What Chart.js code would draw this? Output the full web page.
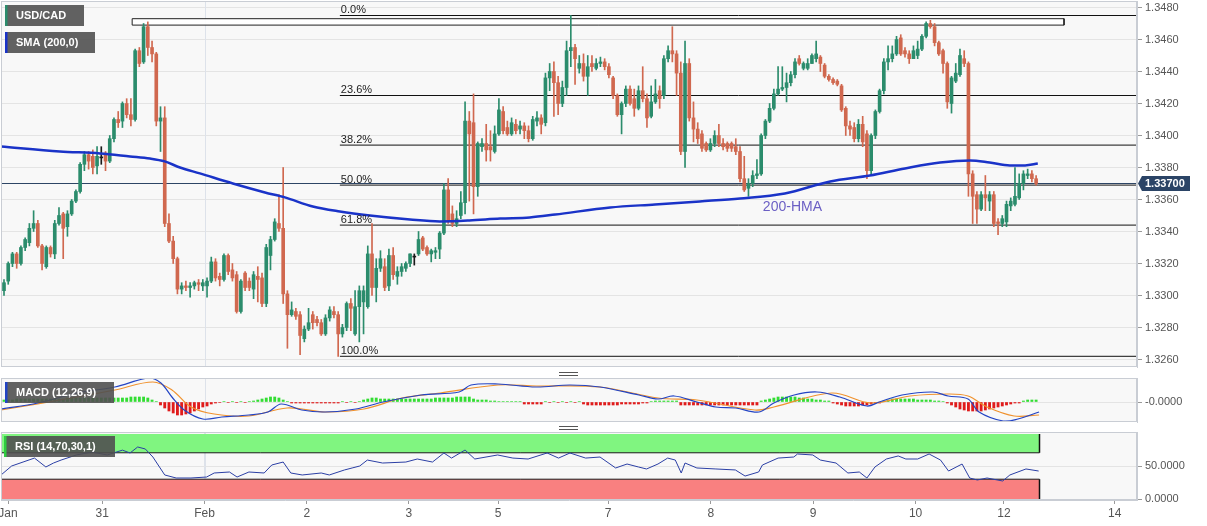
<!DOCTYPE html>
<html><head><meta charset="utf-8"><title>USD/CAD</title>
<script src="https://cdn.jsdelivr.net/npm/chart.js@4.4.1/dist/chart.umd.min.js"></script>
<style>
html,body{margin:0;padding:0;background:#fff;}
body{position:relative;width:1207px;height:526px;overflow:hidden;}
canvas{position:absolute;left:0;display:block;}
</style></head><body>
<canvas id="main" width="1207" height="369" style="top:0"></canvas>
<canvas id="macd" width="1207" height="56" style="top:370px"></canvas>
<canvas id="rsi" width="1207" height="102" style="top:424px"></canvas>
<script>
// ---------- DATA (hourly candles, USD/CAD) ----------
const open = [
1.3303,1.3309,1.3320,1.3326,1.3320,1.3330,1.3333,1.3342,1.3345,1.3331,
1.3318,1.3330,1.3326,1.3345,1.3351,1.3343,1.3351,1.3359,1.3365,1.3382,
1.3388,1.3387,1.3381,1.3386,1.3389,1.3384,1.3398,1.3410,1.3409,1.3420,
1.3413,1.3410,1.3453,1.3446,1.3468,1.3455,1.3451,1.3409,1.3411,1.3345,
1.3334,1.3323,1.3304,1.3306,1.3305,1.3306,1.3308,1.3306,1.3306,1.3309,
1.3321,1.3312,1.3310,1.3325,1.3316,1.3313,1.3290,1.3314,1.3309,1.3304,
1.3312,1.3311,1.3295,1.3325,1.3335,1.3345,1.3342,1.3301,1.3288,1.3290,
1.3288,1.3273,1.3279,1.3288,1.3285,1.3283,1.3276,1.3286,1.3290,1.3288,
1.3276,1.3280,1.3295,1.3276,1.3293,1.3296,1.3293,1.3326,1.3305,1.3317,
1.3318,1.3306,1.3325,1.3312,1.3315,1.3317,1.3320,1.3324,1.3326,1.3336,
1.3330,1.3326,1.3327,1.3329,1.3339,1.3366,1.3351,1.3345,1.3350,1.3358,
1.3409,1.3408,1.3368,1.3393,1.3395,1.3393,1.3390,1.3401,1.3415,1.3405,
1.3401,1.3407,1.3404,1.3406,1.3403,1.3398,1.3409,1.3411,1.3408,1.3436,
1.3440,1.3433,1.3420,1.3430,1.3453,1.3455,1.3442,1.3445,1.3437,1.3445,
1.3442,1.3445,1.3446,1.3443,1.3436,1.3425,1.3413,1.3420,1.3429,1.3423,
1.3417,1.3428,1.3423,1.3412,1.3421,1.3428,1.3425,1.3448,1.3453,1.3451,
1.3439,1.3390,1.3445,1.3411,1.3404,1.3401,1.3395,1.3391,1.3395,1.3400,
1.3395,1.3395,1.3395,1.3393,1.3390,1.3373,1.3367,1.3370,1.3375,1.3376,
1.3400,1.3409,1.3417,1.3426,1.3429,1.3430,1.3433,1.3438,1.3448,1.3442,
1.3442,1.3445,1.3448,1.3449,1.3444,1.3437,1.3435,1.3434,1.3431,1.3417,
1.3406,1.3405,1.3398,1.3407,1.3401,1.3378,1.3400,1.3415,1.3428,1.3446,
1.3448,1.3451,1.3461,1.3453,1.3451,1.3448,1.3450,1.3454,1.3462,1.3470,
1.3468,1.3458,1.3453,1.3445,1.3420,1.3434,1.3438,1.3448,1.3445,1.3376,
1.3363,1.3354,1.3363,1.3359,1.3363,1.3346,1.3345,1.3346,1.3356,1.3357,
1.3361,1.3370,1.3375,1.3376,1.3373];
const high = [
1.3310,1.3321,1.3327,1.3327,1.3331,1.3336,1.3345,1.3353,1.3347,1.3332,
1.3331,1.3331,1.3347,1.3355,1.3352,1.3353,1.3360,1.3366,1.3383,1.3390,
1.3390,1.3391,1.3393,1.3393,1.3390,1.3400,1.3411,1.3415,1.3421,1.3423,
1.3423,1.3454,1.3455,1.3470,1.3471,1.3459,1.3452,1.3418,1.3418,1.3351,
1.3337,1.3324,1.3308,1.3309,1.3308,1.3309,1.3310,1.3310,1.3311,1.3324,
1.3323,1.3314,1.3326,1.3326,1.3320,1.3315,1.3310,1.3315,1.3311,1.3315,
1.3318,1.3314,1.3332,1.3337,1.3348,1.3363,1.3380,1.3303,1.3296,1.3292,
1.3290,1.3281,1.3292,1.3290,1.3287,1.3285,1.3288,1.3293,1.3293,1.3290,
1.3282,1.3296,1.3298,1.3303,1.3306,1.3306,1.3331,1.3345,1.3323,1.3328,
1.3323,1.3329,1.3330,1.3318,1.3320,1.3321,1.3326,1.3326,1.3340,1.3337,
1.3331,1.3329,1.3330,1.3340,1.3370,1.3373,1.3356,1.3353,1.3365,1.3421,
1.3415,1.3426,1.3396,1.3398,1.3407,1.3403,1.3406,1.3423,1.3418,1.3409,
1.3411,1.3410,1.3409,1.3408,1.3406,1.3412,1.3415,1.3413,1.3439,1.3445,
1.3446,1.3437,1.3434,1.3459,1.3475,1.3457,1.3450,1.3451,1.3450,1.3450,
1.3448,1.3449,1.3448,1.3445,1.3437,1.3426,1.3421,1.3431,1.3431,1.3429,
1.3431,1.3443,1.3426,1.3431,1.3435,1.3431,1.3450,1.3456,1.3468,1.3453,
1.3446,1.3459,1.3448,1.3421,1.3408,1.3403,1.3396,1.3398,1.3403,1.3407,
1.3398,1.3396,1.3396,1.3398,1.3393,1.3387,1.3373,1.3378,1.3385,1.3401,
1.3410,1.3420,1.3429,1.3443,1.3443,1.3439,1.3440,1.3448,1.3450,1.3446,
1.3448,1.3451,1.3459,1.3450,1.3445,1.3438,1.3436,1.3435,1.3432,1.3418,
1.3409,1.3408,1.3410,1.3412,1.3403,1.3401,1.3416,1.3429,1.3448,1.3456,
1.3456,1.3462,1.3463,1.3455,1.3453,1.3456,1.3459,1.3463,1.3471,1.3472,
1.3470,1.3459,1.3454,1.3446,1.3437,1.3445,1.3454,1.3453,1.3446,1.3378,
1.3365,1.3365,1.3375,1.3365,1.3365,1.3348,1.3350,1.3359,1.3361,1.3380,
1.3376,1.3378,1.3379,1.3378,1.3375];
const low = [
1.3300,1.3307,1.3318,1.3317,1.3319,1.3328,1.3331,1.3340,1.3330,1.3316,
1.3317,1.3324,1.3323,1.3344,1.3323,1.3337,1.3350,1.3358,1.3364,1.3378,
1.3379,1.3376,1.3376,1.3382,1.3378,1.3383,1.3396,1.3405,1.3405,1.3411,
1.3406,1.3409,1.3443,1.3445,1.3450,1.3446,1.3406,1.3390,1.3343,1.3333,
1.3320,1.3301,1.3301,1.3303,1.3299,1.3304,1.3303,1.3303,1.3299,1.3308,
1.3309,1.3306,1.3309,1.3313,1.3309,1.3289,1.3289,1.3303,1.3303,1.3298,
1.3296,1.3293,1.3293,1.3316,1.3334,1.3340,1.3295,1.3267,1.3287,1.3285,
1.3263,1.3271,1.3278,1.3279,1.3281,1.3275,1.3275,1.3284,1.3286,1.3262,
1.3274,1.3278,1.3278,1.3275,1.3271,1.3276,1.3292,1.3300,1.3296,1.3315,
1.3303,1.3303,1.3310,1.3307,1.3312,1.3315,1.3318,1.3319,1.3325,1.3328,
1.3325,1.3321,1.3323,1.3323,1.3338,1.3345,1.3343,1.3343,1.3348,1.3351,
1.3359,1.3351,1.3362,1.3390,1.3384,1.3384,1.3389,1.3400,1.3401,1.3400,
1.3400,1.3401,1.3401,1.3398,1.3396,1.3397,1.3406,1.3401,1.3406,1.3428,
1.3412,1.3413,1.3418,1.3425,1.3443,1.3432,1.3439,1.3434,1.3425,1.3440,
1.3441,1.3443,1.3441,1.3436,1.3423,1.3412,1.3401,1.3418,1.3419,1.3412,
1.3416,1.3421,1.3405,1.3411,1.3420,1.3417,1.3423,1.3446,1.3446,1.3425,
1.3388,1.3380,1.3409,1.3396,1.3395,1.3390,1.3390,1.3390,1.3393,1.3393,
1.3391,1.3390,1.3390,1.3388,1.3371,1.3365,1.3362,1.3368,1.3373,1.3375,
1.3398,1.3408,1.3416,1.3425,1.3428,1.3421,1.3431,1.3436,1.3444,1.3441,
1.3441,1.3445,1.3446,1.3440,1.3436,1.3434,1.3432,1.3431,1.3415,1.3400,
1.3400,1.3396,1.3396,1.3393,1.3373,1.3375,1.3398,1.3414,1.3426,1.3441,
1.3446,1.3450,1.3450,1.3449,1.3445,1.3448,1.3448,1.3453,1.3461,1.3467,
1.3456,1.3450,1.3439,1.3417,1.3414,1.3433,1.3437,1.3443,1.3362,1.3345,
1.3345,1.3353,1.3353,1.3353,1.3343,1.3338,1.3343,1.3343,1.3353,1.3356,
1.3360,1.3366,1.3373,1.3371,1.3369];
const close = [
1.3308,1.3320,1.3326,1.3320,1.3330,1.3335,1.3342,1.3345,1.3331,1.3320,
1.3330,1.3326,1.3345,1.3350,1.3342,1.3351,1.3359,1.3365,1.3382,1.3388,
1.3384,1.3380,1.3387,1.3386,1.3384,1.3398,1.3410,1.3408,1.3420,1.3413,
1.3410,1.3453,1.3445,1.3468,1.3455,1.3451,1.3409,1.3411,1.3345,1.3334,
1.3323,1.3304,1.3306,1.3305,1.3306,1.3308,1.3307,1.3308,1.3309,1.3321,
1.3311,1.3310,1.3325,1.3315,1.3311,1.3290,1.3309,1.3305,1.3305,1.3313,
1.3310,1.3295,1.3330,1.3335,1.3346,1.3342,1.3301,1.3288,1.3291,1.3287,
1.3275,1.3279,1.3283,1.3283,1.3283,1.3276,1.3286,1.3291,1.3288,1.3276,
1.3280,1.3295,1.3292,1.3293,1.3303,1.3303,1.3326,1.3305,1.3317,1.3323,
1.3305,1.3325,1.3313,1.3315,1.3318,1.3320,1.3326,1.3324,1.3335,1.3329,
1.3326,1.3328,1.3328,1.3339,1.3366,1.3346,1.3345,1.3348,1.3358,1.3409,
1.3401,1.3368,1.3395,1.3395,1.3391,1.3391,1.3401,1.3416,1.3403,1.3401,
1.3408,1.3403,1.3406,1.3403,1.3398,1.3410,1.3411,1.3407,1.3436,1.3440,
1.3433,1.3420,1.3430,1.3453,1.3455,1.3448,1.3445,1.3437,1.3443,1.3443,
1.3445,1.3446,1.3443,1.3438,1.3425,1.3413,1.3420,1.3429,1.3420,1.3417,
1.3428,1.3423,1.3411,1.3421,1.3426,1.3423,1.3448,1.3453,1.3451,1.3439,
1.3390,1.3445,1.3411,1.3404,1.3398,1.3392,1.3391,1.3395,1.3400,1.3395,
1.3393,1.3392,1.3392,1.3390,1.3373,1.3366,1.3370,1.3375,1.3376,1.3400,
1.3409,1.3417,1.3426,1.3429,1.3430,1.3433,1.3438,1.3446,1.3445,1.3445,
1.3445,1.3450,1.3451,1.3445,1.3437,1.3435,1.3433,1.3432,1.3416,1.3406,
1.3404,1.3398,1.3407,1.3396,1.3378,1.3400,1.3415,1.3428,1.3446,1.3448,
1.3451,1.3460,1.3451,1.3451,1.3448,1.3453,1.3454,1.3462,1.3470,1.3468,
1.3458,1.3451,1.3445,1.3421,1.3436,1.3439,1.3450,1.3445,1.3376,1.3362,
1.3354,1.3363,1.3361,1.3363,1.3345,1.3345,1.3348,1.3357,1.3359,1.3362,
1.3370,1.3376,1.3376,1.3373,1.3370];

// 200-period moving average (bar index, value)
const smaIdx  = [-0.7,13.2,22.7,29.8,34.5,38,41.6,46.3,54.1,61.7,66.4,73,79.4,86.5,96,103,110,117.3,124.3,130.3,143.3,153.9,164.5,174,184.6,195.3,204.7,213,221.3,228.4,233,237.8,241.4,244.4];
const smaVals = [1.33931,1.33900,1.33888,1.33869,1.33856,1.33838,1.33800,1.33763,1.33700,1.33644,1.33613,1.33556,1.33525,1.33500,1.33475,1.33463,1.33469,1.33481,1.33488,1.33506,1.33550,1.33569,1.33588,1.33606,1.33638,1.33713,1.33750,1.33794,1.33831,1.33844,1.33831,1.33813,1.33813,1.33825];

// Fibonacci retracement levels
const fibLevels = [1.3475,1.3425,1.3394,1.3369,1.3344,1.3262];
const fibLabels = ['0.0%','23.6%','38.2%','50.0%','61.8%','100.0%'];

// price axis ticks
const priceTicks = [1.3260,1.3280,1.3300,1.3320,1.3340,1.3360,1.3380,1.3400,1.3420,1.3440,1.3460,1.3480];

// MACD (12,26,9)
const macdIdx  = [-0.7,8,17.3,26.2,34.3,37.1,39.7,42.6,47,51.5,57.9,62.4,65.5,70.4,75.9,83.2,89.6,98.6,107.6,110.4,116.8,125.8,133.8,140.9,150.1,154.6,158.4,163.8,168.3,173,178.5,182,186.8,192.2,197.6,204,206.9,212.3,219.6,223.2,227.9,230.5,236.2,239.7,244.7];
const macdVals = [-0.00035,-0.00005,0.00045,0.00075,0.0012,0.00095,0.00025,-0.0004,-0.00085,-0.00075,-0.00065,-0.0005,-0.0001,-0.0004,-0.0005,-0.00035,0,0.00035,0.0005,0.00085,0.0009,0.00075,0.00085,0.00075,0.00035,0.00015,0.0003,0,-0.00025,-0.0003,-0.0005,-0.00005,0.00035,0.0005,0.00025,-0.0002,0,0.00035,0.0005,0.0003,0.00015,-0.0005,-0.00095,-0.00085,-0.0005];
const signalIdx  = [-0.7,17.3,26.2,35.2,39.7,44.2,49.7,57.9,66.9,75.9,85.1,94.1,103.1,116.8,125.8,140.9,154.6,163.8,177.5,182,195.7,205,214.2,223.2,227.9,232.4,238.8,244.7];
const signalVals = [-0.0004,0.00025,0.0006,0.001,0.0006,-0.00025,-0.0006,-0.0007,-0.0003,-0.0005,-0.00035,0.0002,0.00045,0.00085,0.0008,0.00075,0.0002,0.0001,-0.0004,-0.00025,0.00045,-0.00005,0.0003,0.0004,0.0003,-0.00025,-0.0007,-0.00065];
const histVals = [
0.0001,0.0001,0.0001,
0.00015,0.00015,0.00015,0.00015,0.00015,0.00015,0.00015,0.00015,0.00015,0.00015,0.00015,0.00015,
0.0002,0.0002,0.0002,0.0002,0.0002,0.0002,0.0002,0.0002,0.0002,0.0002,0.0002,0.0002,0.0002,0.0002,0.0002,
0.00025,0.00025,0.00025,0.00025,0.0002,0.0001,0.000025,
-0.00015,-0.0003,-0.00045,-0.00055,-0.00065,-0.00065,-0.0006,-0.00055,-0.00045,-0.00035,-0.00025,-0.0002,-0.0001,-0.00005,
-0.000025,0.000025,-0.000025,0.000025,-0.000025,0.000025,-0.000025,0.000025,
0.00005,0.0001,0.00015,0.0002,0.00025,0.00025,0.0002,0.0001,0.000025,
-0.00005,-0.00005,-0.00005,-0.00005,-0.00005,-0.00005,-0.00005,-0.00005,-0.00005,-0.00005,-0.00005,-0.00005,
0.000025,-0.000025,0.000025,-0.000025,0.000025,
0.0001,0.00015,0.0002,0.0002,0.00015,0.00015,
0.00015,0.00015,0.00015,0.00015,0.00015,0.00015,0.00015,0.00015,0.00015,0.00015,
0.00015,0.0002,0.0002,0.0002,0.0002,0.0002,0.00025,0.00025,0.00025,0.00025,
0.00015,0.0001,0.0001,0.0001,0.00005,0.00005,0.000025,
0.000025,0.000025,0.000025,0.000025,0.000025,
-0.0001,-0.0001,-0.0001,-0.0001,-0.0001,
0.000025,-0.000025,0.000025,-0.000025,0.000025,-0.000025,0.000025,-0.000025,0.000025,
-0.0001,-0.00015,-0.00015,-0.00015,-0.00015,-0.00015,-0.00015,-0.00015,-0.00015,-0.0001,
-0.0001,-0.0001,-0.0001,
-0.0001,-0.00005,-0.00005,0.000025,0.00005,0.00005,0.00005,
0.00005,0.00005,0.00005,
-0.00015,-0.00015,-0.00015,-0.00015,-0.00015,-0.00015,-0.00015,-0.00015,-0.00015,-0.00015,-0.00015,-0.00015,-0.00015,-0.00015,-0.00015,-0.00015,-0.00015,-0.00015,-0.00015,
0.00005,0.0001,0.00015,0.0002,0.00025,0.00025,0.00025,0.00025,0.00025,0.0002,0.0002,0.00015,0.00015,0.0001,0.0001,0.00005,0.00005,
-0.00005,-0.0001,-0.00015,-0.0002,-0.0002,-0.0002,-0.0002,-0.00015,-0.00015,-0.0001,-0.00005,-0.00005,
0.00005,0.0001,0.00015,0.00015,0.00015,0.00015,0.00015,0.00015,0.0001,0.0001,0.0001,0.0001,0.00005,0.00005,0.000025,
-0.00005,-0.00015,-0.00025,-0.00035,-0.0004,-0.00045,-0.00045,-0.00045,-0.00045,-0.0004,-0.00035,-0.0003,-0.00025,-0.0002,-0.00015,-0.0001,-0.00005,-0.00005,
0.00005,0.0001,0.0001,0.0001];

// RSI (14,70,30)
const rsiIdx  = [-0.7,1.8,4.5,7.2,9.9,11.7,13.5,17.1,20.8,24.4,28,29.8,31.6,33.4,35.2,38,40.7,44.2,47.9,49.7,53.3,55.1,57.9,61.5,63.3,66,67.8,70.5,75,76.9,80.5,82.3,84.1,85.9,89.5,95,97.7,101.3,104,105.8,109,111.3,116.7,120.3,123.9,128.4,131.1,133.8,137.5,140.9,144.6,147.3,150,151.9,154.6,156.9,158.7,160.1,161,163.8,168.3,172.9,175.2,178.4,179.3,183,186.7,187.6,191.2,193,196.7,199.5,202.2,204,205.9,208.6,211.4,213.2,216,218.7,221.4,223.3,226.5,228.3,230.1,232.4,236.1,237.8,241.6,244.6];
const rsiVals = [36.4,50,56,62,48.5,54.5,59,66.7,71.2,66.7,74,69.7,78.8,75.8,63.6,36.4,31.8,31.8,33.3,39.4,40.9,33.3,40.9,39.4,51.5,56,39.4,36.4,39.4,36.4,44,47,50,59,54.5,56,60.6,56,69.7,62,74.2,60.6,66.7,62,60.6,69.7,62,69.7,62,63.6,47,53,48.5,45.5,53,62,59,39.4,54.5,47,45.5,44,34.8,40.9,51.5,62,63.6,68.2,66.7,59,54.5,39.4,40.9,31.8,48.5,60.6,65.2,60.6,60.6,68.2,59,42.4,53,31.8,28.8,31.8,27.3,36.4,45.5,42.4];

// time axis (bar index of each label)
const xTickLabels = ['Jan','31','Feb','2','3','5','7','8','9','10','12','14'];
const xTickIdx    = [0.95,23.2,47.4,71.6,95.7,116.8,142.8,167.1,191.3,215.5,236.4,262.6];

// ---------- LAYOUT CONSTANTS ----------
const FONT = "'Liberation Sans', Arial, Helvetica, sans-serif";
const GREEN = '#2b8c6c', RED = '#d0684f';
const X_MIN = -0.709, X_MAX = 267.85;
const FIB_START = 79.4, RECT_X0 = 30.3, RECT_X1 = 250.6, RECT_TOP = 1.3473, RECT_BOTTOM = 1.3469;
const BAND_END = 244.8;
Chart.defaults.font.family = FONT;

const xs = open.map((_, i) => i);
const lastPrice = close[close.length - 1];
const pts = (xa, ya) => xa.map((x, i) => ({x: x, y: ya[i]}));
const hline = (v, x0, x1) => [{x: x0, y: v}, {x: x1, y: v}];
const candleColor = i => close[i] > open[i] ? GREEN : (close[i] < open[i] ? RED : '#1a1a1a');

function labelBox(ctx, x, y, w, h, bar, text) {
  ctx.save();
  ctx.fillStyle = 'rgba(80,80,80,0.9)';
  ctx.fillRect(x, y, w, h);
  ctx.fillStyle = bar;
  ctx.fillRect(x, y, 2.5, h);
  ctx.fillStyle = '#fff';
  ctx.font = 'bold 11px ' + FONT;
  ctx.textBaseline = 'middle';
  ctx.textAlign = 'left';
  ctx.fillText(text, x + 11, y + h / 2 + 0.5);
  ctx.restore();
}
function handle(ctx) {
  ctx.save();
  ctx.strokeStyle = '#555';
  ctx.lineWidth = 1;
  ctx.beginPath();
  ctx.moveTo(559, 2.5); ctx.lineTo(578, 2.5);
  ctx.moveTo(559, 5.5); ctx.lineTo(578, 5.5);
  ctx.stroke();
  ctx.restore();
}
function panePlugin(id, front) {
  return {
    id: id,
    beforeDraw(c) {
      const a = c.chartArea, ctx = c.ctx;
      ctx.save(); ctx.fillStyle = '#f8f8f8';
      ctx.fillRect(a.left, a.top, a.right - a.left, a.bottom - a.top); ctx.restore();
    },
    beforeDatasetsDraw(c) {
      const a = c.chartArea, ctx = c.ctx;
      const x = Math.round(c.scales.x.getPixelForValue(xTickIdx[2])) + 0.5;
      ctx.save(); ctx.strokeStyle = '#dde2ea'; ctx.lineWidth = 1;
      ctx.beginPath(); ctx.moveTo(x, a.top); ctx.lineTo(x, a.bottom); ctx.stroke(); ctx.restore();
    },
    afterDraw(c) {
      const a = c.chartArea, ctx = c.ctx;
      ctx.save(); ctx.strokeStyle = '#c9cdd4'; ctx.lineWidth = 1;
      ctx.strokeRect(Math.round(a.left) + 0.5, Math.round(a.top) + 0.5, Math.round(a.right - a.left) - 1, Math.round(a.bottom - a.top) - 1);
      ctx.restore();
      if (front) front(c);
    }
  };
}
function yAxis(min, max, ticks, fmt) {
  return {
    type: 'linear', position: 'right', min: min, max: max,
    afterFit(s) { s.width = 70; s.paddingTop = 0; s.paddingBottom = 0; },
    afterBuildTicks(s) { s.ticks = ticks.map(v => ({value: v})); },
    border: {display: true, color: '#c9cdd4'},
    grid: {color: '#e4e4e4', tickColor: '#9a9a9a', tickLength: 5, drawTicks: true},
    ticks: {color: '#555', font: {family: FONT, size: 11}, padding: 3, autoSkip: false, callback: fmt}
  };
}
const hiddenX = {type: 'linear', min: X_MIN, max: X_MAX, display: false, offset: false, grid: {offset: false}};
const common = {
  responsive: false, animation: false, devicePixelRatio: 1, events: [],
  plugins: {legend: {display: false}, tooltip: {enabled: false}}
};

// ---------- MAIN PRICE PANE ----------
new Chart(document.getElementById('main'), {
  type: 'line',
  data: {datasets: [
    {type: 'line', data: hline(RECT_TOP, RECT_X0, RECT_X1), fill: {value: RECT_BOTTOM}, backgroundColor: 'rgba(255,255,255,0.92)', borderWidth: 0, pointRadius: 0, order: 12},
    {type: 'line', data: [{x: RECT_X0, y: RECT_TOP}, {x: RECT_X1, y: RECT_TOP}, {x: RECT_X1, y: RECT_BOTTOM}, {x: RECT_X0, y: RECT_BOTTOM}, {x: RECT_X0, y: RECT_TOP}], borderColor: '#222', borderWidth: 1, pointRadius: 0, fill: false, order: 11},
    ...fibLevels.map(v => ({type: 'line', data: hline(v, FIB_START, X_MAX), borderColor: '#111', borderWidth: 1, pointRadius: 0, fill: false, order: 10})),
    {type: 'line', data: hline(lastPrice, X_MIN, X_MAX), borderColor: '#2d4565', borderWidth: 1, pointRadius: 0, fill: false, order: 9},
    {type: 'bar', data: xs.map(i => ({x: i, y: [low[i], high[i]]})), backgroundColor: c => candleColor(c.dataIndex), barThickness: 1, grouped: false, order: 6},
    {type: 'bar', data: xs.map(i => ({x: i, y: [open[i], close[i]]})), backgroundColor: c => candleColor(c.dataIndex), barThickness: 3, minBarLength: 1, grouped: false, order: 5},
    {type: 'line', data: pts(smaIdx, smaVals), borderColor: '#1a33c8', borderWidth: 2.5, pointRadius: 0, tension: 0.4, cubicInterpolationMode: 'monotone', fill: false, order: 1}
  ]},
  options: Object.assign({}, common, {
    layout: {autoPadding: false, padding: {left: 1, top: 1, right: 0, bottom: 2}},
    scales: {
      x: hiddenX,
      y: yAxis(1.32553125, 1.34840625, priceTicks, v => v.toFixed(4))
    }
  }),
  plugins: [panePlugin('mainPane', c => {
    const ctx = c.ctx, xS = c.scales.x, yS = c.scales.y;
    ctx.save();
    ctx.fillStyle = '#222'; ctx.font = '11px ' + FONT; ctx.textAlign = 'left'; ctx.textBaseline = 'alphabetic';
    fibLevels.forEach((v, i) => ctx.fillText(fibLabels[i], xS.getPixelForValue(FIB_START) + 1, yS.getPixelForValue(v) - 2.5));
    ctx.fillStyle = '#6b5fc4'; ctx.font = '14px ' + FONT; ctx.textBaseline = 'middle';
    ctx.fillText('200-HMA', xS.getPixelForValue(179.4), yS.getPixelForValue(1.3355));
    // current price tag
    const py = yS.getPixelForValue(lastPrice);
    const x0 = c.chartArea.right;
    ctx.fillStyle = '#2b4466';
    ctx.beginPath();
    ctx.moveTo(x0 + 1, py); ctx.lineTo(x0 + 5, py - 7.5); ctx.lineTo(x0 + 53, py - 7.5);
    ctx.lineTo(x0 + 53, py + 7.5); ctx.lineTo(x0 + 5, py + 7.5); ctx.closePath(); ctx.fill();
    ctx.fillStyle = '#fff'; ctx.font = 'bold 11px ' + FONT; ctx.textBaseline = 'middle';
    ctx.fillText(lastPrice.toFixed(5), x0 + 8, py + 0.5);
    ctx.restore();
    labelBox(ctx, 5, 5, 79, 21, GREEN, 'USD/CAD');
    labelBox(ctx, 5, 32, 90, 21, '#1a33c8', 'SMA (200,0)');
  })]
});

// ---------- MACD PANE ----------
new Chart(document.getElementById('macd'), {
  type: 'line',
  data: {datasets: [
    {type: 'bar', data: xs.map(i => ({x: i, y: histVals[i]})), backgroundColor: c => histVals[c.dataIndex] >= 0 ? '#33dd33' : '#e01b1b', barThickness: 2.2, grouped: false, order: 5},
    {type: 'line', data: pts(signalIdx, signalVals), borderColor: '#f0922e', borderWidth: 1.2, pointRadius: 0, tension: 0.35, fill: false, order: 2},
    {type: 'line', data: pts(macdIdx, macdVals), borderColor: '#2344c4', borderWidth: 1.2, pointRadius: 0, tension: 0.35, fill: false, order: 1}
  ]},
  options: Object.assign({}, common, {
    layout: {autoPadding: false, padding: {left: 1, top: 8, right: 0, bottom: 4}},
    scales: {
      x: hiddenX,
      y: yAxis(-0.001, 0.0012, [0], () => '-0.0000')
    }
  }),
  plugins: [panePlugin('macdPane', c => {
    handle(c.ctx);
    labelBox(c.ctx, 5, 12, 109, 21, '#2344c4', 'MACD (12,26,9)');
  })]
});

// ---------- RSI PANE ----------
new Chart(document.getElementById('rsi'), {
  type: 'line',
  data: {datasets: [
    {type: 'line', data: hline(98.5, X_MIN, BAND_END), fill: {value: 70}, backgroundColor: '#80f580', borderWidth: 0, pointRadius: 0, order: 9},
    {type: 'line', data: hline(30, X_MIN, BAND_END), fill: {value: -1.5}, backgroundColor: '#f98080', borderWidth: 0, pointRadius: 0, order: 9},
    {type: 'line', data: hline(70, X_MIN, BAND_END), borderColor: '#1a1a1a', borderWidth: 1, pointRadius: 0, fill: false, order: 8},
    {type: 'line', data: hline(30, X_MIN, BAND_END), borderColor: '#1a1a1a', borderWidth: 1, pointRadius: 0, fill: false, order: 8},
    {type: 'line', data: [{x: BAND_END, y: 70}, {x: BAND_END, y: 98.5}], borderColor: '#111', borderWidth: 1.5, pointRadius: 0, fill: false, order: 8},
    {type: 'line', data: [{x: BAND_END, y: -1.5}, {x: BAND_END, y: 30}], borderColor: '#111', borderWidth: 1.5, pointRadius: 0, fill: false, order: 8},
    {type: 'line', data: pts(rsiIdx, rsiVals), borderColor: '#2b3fa5', borderWidth: 1, pointRadius: 0, tension: 0, fill: false, order: 1}
  ]},
  options: Object.assign({}, common, {
    layout: {autoPadding: false, padding: {left: 1, top: 8, right: 0, bottom: 0}},
    scales: {
      x: {
        type: 'linear', position: 'bottom', min: X_MIN, max: X_MAX, offset: false,
        afterFit(s) { s.height = 26; s.paddingLeft = 0; s.paddingRight = 0; },
        afterBuildTicks(s) { s.ticks = xTickIdx.map(v => ({value: v})); },
        border: {display: true, color: '#c9cdd4'},
        grid: {offset: false, color: c => (c.tick && c.tick.value === xTickIdx[2]) ? '#dde2ea' : 'rgba(0,0,0,0)', tickColor: '#9a9a9a', tickLength: 4, drawTicks: true},
        ticks: {color: '#555', font: {family: FONT, size: 12}, padding: 2, autoSkip: false, maxRotation: 0, callback: (v, i) => xTickLabels[i]}
      },
      y: yAxis(-1.5, 101.5, [0, 50], v => v.toFixed(4))
    }
  }),
  plugins: [panePlugin('rsiPane', c => {
    handle(c.ctx);
    labelBox(c.ctx, 4, 12, 111, 21, '#2ecc40', 'RSI (14,70,30,1)');
  })]
});
</script>
</body></html>
